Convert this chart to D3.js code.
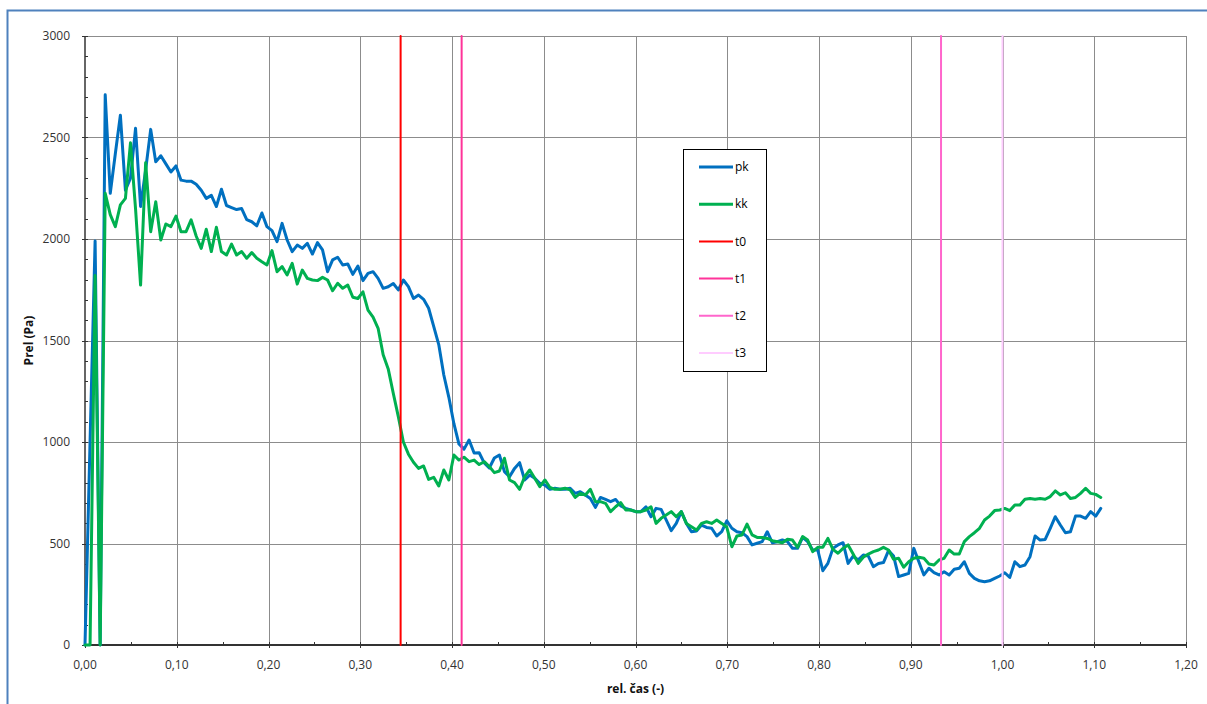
<!DOCTYPE html>
<html>
<head>
<meta charset="utf-8">
<script src="https://cdn.jsdelivr.net/npm/d3@7"></script>
<style>
    body { margin: 0; background: #fff; }
    text { font-family: "Open Sans", "Noto Sans", sans-serif; }
</style>
</head>
<body>
<div id="chart"></div>
<script>
// sample spacing of the measurement (rel. time units)
const STEP = 0.005508;

const pk = [
    0, 1000, 1990, 0, 2710, 2225, 2420, 2610, 2240, 2300,
    2545, 2160, 2340, 2540, 2380, 2410, 2370, 2330, 2360, 2290,
    2285, 2285, 2270, 2240, 2200, 2215, 2160, 2245, 2165, 2155,
    2145, 2150, 2095, 2085, 2065, 2128, 2061, 2041, 1987, 2077,
    1995, 1938, 1970, 1954, 1979, 1926, 1982, 1946, 1839, 1897,
    1910, 1872, 1877, 1826, 1867, 1795, 1831, 1839, 1806, 1757,
    1765, 1781, 1749, 1798, 1765, 1707, 1724, 1703, 1659, 1570,
    1480, 1330, 1220, 1090, 990, 965, 1010, 946, 947, 897,
    872, 921, 936, 854, 829, 870, 898, 813, 837, 821,
    797, 788, 767, 772, 767, 767, 772, 747, 755, 739,
    722, 678, 727, 717, 706, 717, 685, 673, 665, 657,
    657, 681, 632, 673, 668, 616, 563, 599, 657, 599,
    558, 562, 591, 579, 575, 537, 558, 612, 575, 558,
    553, 534, 493, 501, 509, 558, 504, 509, 517, 509,
    476, 476, 530, 509, 468, 468, 366, 402, 476, 493,
    504, 402, 438, 419, 443, 438, 386, 402, 406, 465,
    438, 337, 345, 353, 476, 410, 345, 378, 357, 345,
    361, 345, 373, 378, 410, 353, 328, 316, 312, 316,
    328, 340, 356, 333, 410, 386, 394, 435, 537, 517,
    520, 575, 632, 591, 553, 558, 635, 635, 624, 657,
    635, 673
];

const kk = [
    0, 0, 1820, 0, 2225, 2120, 2061, 2168, 2200, 2474,
    2150, 1773, 2376, 2036, 2184, 1995, 2074, 2061, 2113, 2036,
    2036, 2094, 2015, 1954, 2048, 1938, 2058, 1938, 1921, 1975,
    1921, 1938, 1905, 1933, 1905, 1888, 1872, 1943, 1839, 1864,
    1823, 1880, 1778, 1847, 1806, 1798, 1795, 1811, 1798, 1745,
    1782, 1757, 1773, 1713, 1707, 1740, 1650, 1615, 1560, 1430,
    1360, 1240, 1125, 1000, 940, 900, 870, 882, 816, 826,
    783, 862, 813, 936, 911, 925, 903, 911, 889, 903,
    879, 849, 857, 920, 813, 800, 767, 829, 862, 821,
    780, 813, 776, 767, 767, 772, 764, 727, 747, 739,
    767, 706, 706, 698, 657, 681, 701, 665, 665, 657,
    657, 665, 681, 599, 624, 640, 657, 632, 657, 599,
    583, 566, 599, 607, 599, 616, 599, 580, 484, 537,
    542, 596, 542, 530, 530, 525, 514, 509, 504, 521,
    517, 481, 534, 517, 460, 481, 481, 525, 471, 452,
    476, 493, 448, 402, 432, 448, 460, 468, 481, 468,
    422, 427, 383, 410, 427, 432, 427, 399, 394, 419,
    427, 468, 448, 448, 509, 534, 553, 575, 616, 635,
    662, 665, 673, 662, 690, 690, 718, 722, 718, 722,
    718, 731, 759, 739, 750, 722, 727, 747, 772, 747,
    742, 727
];

const markerNames = ["t0", "t1", "t2", "t3"];
const markerTimes = [0.344, 0.4105, 0.933, 1.0];

const xTickValues = [0, 0.1, 0.2, 0.3, 0.4, 0.5, 0.6, 0.7, 0.8, 0.9, 1.0, 1.1, 1.2];
const xTickLabels = ["0,00", "0,10", "0,20", "0,30", "0,40", "0,50", "0,60", "0,70", "0,80", "0,90", "1,00", "1,10", "1,20"];
const yTickValues = [0, 500, 1000, 1500, 2000, 2500, 3000];

const colors = {
    pk: "#0070C0",
    kk: "#00B050",
    t0: "#FF0000",
    t1: "#FF3399",
    t2: "#FF66CC",
    t3: "#FFCCFF"
};

const W = 1207, H = 704;

const svg = d3.select("#chart")
    .append("svg")
    .attr("width", W)
    .attr("height", H);

// outer chart frame (runs off the right/bottom edge)
svg.append("rect")
    .attr("x", 7.5).attr("y", 10.5)
    .attr("width", 1230).attr("height", 720)
    .attr("fill", "#fff")
    .attr("stroke", "#4F81BD")
    .attr("stroke-width", 2);

const x = d3.scaleLinear().domain([0, 1.2]).range([85, 1186]);
const y = d3.scaleLinear().domain([0, 3000]).range([645, 36]);

const grid = svg.append("g");

grid.selectAll("line.vg")
    .data(xTickValues.slice(1))
    .join("line")
    .attr("x1", d => Math.round(x(d)) + 0.5)
    .attr("x2", d => Math.round(x(d)) + 0.5)
    .attr("y1", y(0))
    .attr("y2", y(3000))
    .attr("stroke", "#8c8c8c")
    .attr("stroke-width", 1);

grid.selectAll("line.hg")
    .data(yTickValues.slice(1))
    .join("line")
    .attr("x1", x(0))
    .attr("x2", x(1.2))
    .attr("y1", d => Math.round(y(d)) + 0.5)
    .attr("y2", d => Math.round(y(d)) + 0.5)
    .attr("stroke", "#8c8c8c")
    .attr("stroke-width", 1);

// axes
const axes = svg.append("g").attr("stroke", "#333");

axes.append("line")
    .attr("x1", x(0)).attr("x2", x(0))
    .attr("y1", y(0)).attr("y2", y(3000))
    .attr("stroke-width", 1.5);

axes.selectAll("line.ymin")
    .data(y.ticks(30))
    .join("line")
    .attr("x1", x(0)).attr("x2", x(0) + 3)
    .attr("y1", d => Math.round(y(d)) + 0.5)
    .attr("y2", d => Math.round(y(d)) + 0.5);

axes.selectAll("line.ymaj")
    .data(yTickValues)
    .join("line")
    .attr("x1", x(0) - 3).attr("x2", x(0) + 3)
    .attr("y1", d => Math.round(y(d)) + 0.5)
    .attr("y2", d => Math.round(y(d)) + 0.5);

axes.selectAll("line.xmin")
    .data(x.ticks(24))
    .join("line")
    .attr("x1", d => Math.round(x(d)) + 0.5)
    .attr("x2", d => Math.round(x(d)) + 0.5)
    .attr("y1", y(0)).attr("y2", y(0) - 3);

axes.selectAll("line.xmaj")
    .data(xTickValues)
    .join("line")
    .attr("x1", d => Math.round(x(d)) + 0.5)
    .attr("x2", d => Math.round(x(d)) + 0.5)
    .attr("y1", y(0) - 3).attr("y2", y(0) + 3);

axes.append("line")
    .attr("x1", x(0)).attr("x2", x(1.2))
    .attr("y1", y(0)).attr("y2", y(0))
    .attr("stroke-width", 2);

// tick labels
svg.append("g")
    .selectAll("text")
    .data(yTickValues)
    .join("text")
    .attr("x", 70)
    .attr("y", d => y(d))
    .attr("dy", "0.35em")
    .attr("text-anchor", "end")
    .attr("font-size", 12)
    .attr("fill", "#333")
    .text(d => d);

svg.append("g")
    .selectAll("text")
    .data(xTickValues)
    .join("text")
    .attr("x", d => x(d))
    .attr("y", 665)
    .attr("dy", "0.35em")
    .attr("text-anchor", "middle")
    .attr("font-size", 12)
    .attr("fill", "#333")
    .text((d, i) => xTickLabels[i]);

svg.append("text")
    .attr("x", (x(0) + x(1.2)) / 2)
    .attr("y", 689)
    .attr("dy", "0.35em")
    .attr("text-anchor", "middle")
    .attr("font-size", 12)
    .attr("font-weight", "bold")
    .attr("fill", "#111")
    .text("rel. čas (-)");

svg.append("text")
    .attr("transform", `translate(29,${(y(0) + y(3000)) / 2}) rotate(-90)`)
    .attr("dy", "0.35em")
    .attr("text-anchor", "middle")
    .attr("font-size", 12)
    .attr("font-weight", "bold")
    .attr("fill", "#111")
    .text("Prel (Pa)");

// data series
const line = d3.line()
    .x(d => x(d[0]))
    .y(d => y(d[1]));

const series = [
    { name: "pk", values: pk.map((v, i) => [i * STEP, v]) },
    { name: "kk", values: kk.map((v, i) => [i * STEP, v]) }
];
markerNames.forEach((n, i) => {
    series.push({ name: n, values: [[markerTimes[i], 0], [markerTimes[i], 3000]] });
});

svg.append("g")
    .selectAll("path")
    .data(series)
    .join("path")
    .attr("d", d => line(d.values))
    .attr("fill", "none")
    .attr("stroke", d => colors[d.name])
    .attr("stroke-width", d => d.name.startsWith("t") ? 2 : 3)
    .attr("stroke-linejoin", "round")
    .attr("stroke-linecap", "round");

// legend
const legend = svg.append("g");

legend.append("rect")
    .attr("x", 683.5).attr("y", 149.5)
    .attr("width", 83).attr("height", 222)
    .attr("fill", "#fff")
    .attr("stroke", "#000")
    .attr("stroke-width", 1);

const entry = legend.selectAll("g")
    .data(series)
    .join("g")
    .attr("transform", (d, i) => `translate(0,${167 + i * 37.2})`);

entry.append("line")
    .attr("x1", 699).attr("x2", 733)
    .attr("stroke", d => colors[d.name])
    .attr("stroke-width", d => d.name.startsWith("t") ? 2 : 3);

entry.append("text")
    .attr("x", 735)
    .attr("dy", "0.35em")
    .attr("font-size", 12)
    .attr("fill", "#000")
    .text(d => d.name);
</script>
</body>
</html>
